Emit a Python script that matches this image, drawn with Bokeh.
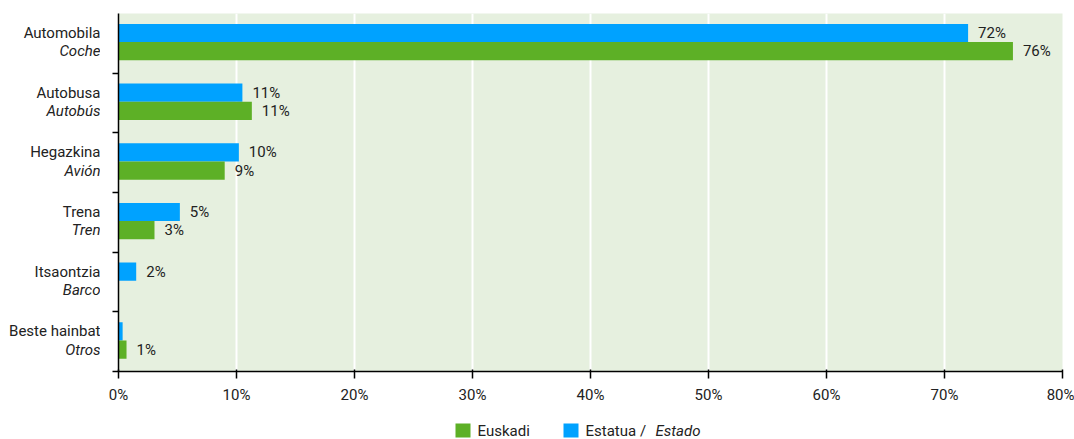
from bokeh.plotting import figure
from bokeh.models import Range1d, FixedTicker, ColumnDataSource
from bokeh.layouts import column, row
from bokeh.core.properties import value
from bokeh.embed import file_html
from bokeh.resources import INLINE

# ---- data ----
categories_eu = ["Automobila", "Autobusa", "Hegazkina", "Trena", "Itsaontzia", "Beste hainbat"]
categories_es = ["Coche", "Autobús", "Avión", "Tren", "Barco", "Otros"]
estado = [72.0, 10.5, 10.2, 5.2, 1.5, 0.35]
euskadi = [75.8, 11.3, 9.0, 3.05, 0.0, 0.68]
estado_labels = ["72%", "11%", "10%", "5%", "2%", ""]
euskadi_labels = ["76%", "11%", "9%", "3%", "", "1%"]
x_ticks = [0, 10, 20, 30, 40, 50, 60, 70, 80]
x_tick_labels = ["0%", "10%", "20%", "30%", "40%", "50%", "60%", "70%", "80%"]
legend_names = ["Euskadi", "Estatua /"]
legend_italic = "Estado"

FONT = "Roboto"
GREEN = "#5DB026"
BLUE = "#00A2FF"
BG = "#E6F0DF"
TXT = "#222222"

n = len(categories_eu)
idx = list(range(n))
y_blue = [i + 0.327 for i in idx]
y_green = [i + 0.632 for i in idx]

src_b = ColumnDataSource(dict(y=y_blue, v=estado, lab=estado_labels))
src_g = ColumnDataSource(dict(y=y_green, v=euskadi, lab=euskadi_labels))

yr = Range1d(n, 0)
TOP, BOTTOM = 13, 41
H = 412

p = figure(width=974, height=H, output_backend="svg", toolbar_location=None,
           x_range=Range1d(0, 80), y_range=yr,
           min_border_left=18, min_border_right=12, min_border_top=TOP, min_border_bottom=BOTTOM)
p.outline_line_color = None
p.background_fill_color = BG
p.border_fill_color = "white"

p.hbar(y="y", left=0, right="v", height=0.305, color=BLUE, line_color=None, source=src_b)
p.hbar(y="y", left=0, right="v", height=0.305, color=GREEN, line_color=None, source=src_g)

for s in (src_b, src_g):
    p.text(x="v", y="y", text="lab", source=s, x_offset=10, text_align="left",
           text_baseline="middle", text_font=value(FONT), text_font_size="15px",
           text_color=TXT)

# grid
p.ygrid.grid_line_color = None
p.xgrid.grid_line_color = "white"
p.xgrid.grid_line_width = 2
p.xgrid.ticker = FixedTicker(ticks=x_ticks)

# x axis
xa = p.xaxis[0]
xa.ticker = FixedTicker(ticks=x_ticks)
xa.major_label_overrides = {t: l for t, l in zip(x_ticks, x_tick_labels)}
xa.axis_line_color = "black"
xa.axis_line_width = 1.5
xa.major_tick_line_color = "black"
xa.major_tick_line_width = 1.5
xa.major_tick_in = 2
xa.major_tick_out = 7
xa.minor_tick_line_color = None
xa.major_label_standoff = 7
xa.major_label_text_font = FONT
xa.major_label_text_font_size = "15px"
xa.major_label_text_color = TXT

# y axis (ticks at group boundaries, no labels)
ya = p.yaxis[0]
yt = [1, 2, 3, 4, 5, 6]
ya.ticker = FixedTicker(ticks=yt)
ya.major_label_overrides = {t: "" for t in yt}
ya.major_label_standoff = 0
ya.axis_line_color = "black"
ya.axis_line_width = 1.5
ya.major_tick_line_color = "black"
ya.major_tick_line_width = 1.5
ya.major_tick_in = 0
ya.major_tick_out = 6
ya.minor_tick_line_color = None

# category label panel (shares y range)
lbl = figure(width=100, height=H, output_backend="svg", toolbar_location=None,
             x_range=Range1d(0, 100), y_range=yr, x_axis_type=None, y_axis_type=None,
             min_border_left=0, min_border_right=0, min_border_top=TOP, min_border_bottom=BOTTOM)
lbl.outline_line_color = None
lbl.grid.visible = False
lbl.background_fill_color = "white"
lbl.border_fill_color = "white"
lbl.text(x=[100] * n, y=y_blue, text=categories_eu, text_align="right", text_baseline="middle",
         text_font=value(FONT), text_font_size="15px", text_color=TXT)
lbl.text(x=[100] * n, y=y_green, text=categories_es, text_align="right", text_baseline="middle",
         text_font=value(FONT), text_font_style="italic", text_font_size="15px", text_color=TXT)

# legend panel (pixel coordinates)
LH = 27
lg = figure(width=1074, height=LH, output_backend="svg", toolbar_location=None,
            x_range=Range1d(0, 1074), y_range=Range1d(LH, 0),
            x_axis_type=None, y_axis_type=None, min_border=0)
lg.outline_line_color = None
lg.grid.visible = False
lg.background_fill_color = "white"
lg.border_fill_color = "white"
lg.quad(left=[455, 563], right=[470, 578], top=[11, 11], bottom=[25, 25],
        color=[GREEN, BLUE], line_color=None)
lg.text(x=[477, 585], y=[18, 18], text=legend_names, text_align="left",
        text_baseline="middle", text_font=value(FONT), text_font_size="15px", text_color=TXT)
lg.text(x=[655], y=[18], text=[legend_italic], text_align="left", text_baseline="middle",
        text_font=value(FONT), text_font_style="italic", text_font_size="15px", text_color=TXT)

layout = column(row(lbl, p, spacing=0), lg, spacing=0)
open("out.html", "w").write(file_html(layout, INLINE))
